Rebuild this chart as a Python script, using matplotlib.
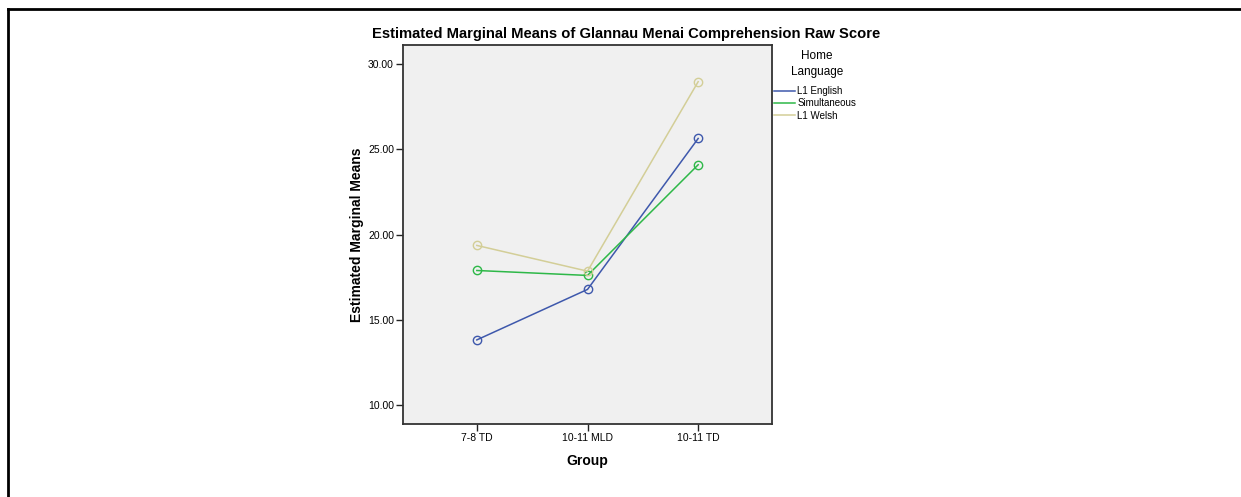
import matplotlib
matplotlib.use("Agg")
import matplotlib.pyplot as plt
from matplotlib.lines import Line2D

groups = ["7-8 TD", "10-11 MLD", "10-11 TD"]
l1_english = [13.82, 16.78, 25.63]
simultaneous = [17.89, 17.60, 24.09]
l1_welsh = [19.36, 17.85, 28.96]
series_names = ["L1 English", "Simultaneous", "L1 Welsh"]
series_colors = ["#3E58AC", "#2EB848", "#D3CE97"]
yticks = [10, 15, 20, 25, 30]

plt.rcParams['font.family'] = ['Liberation Sans', 'DejaVu Sans']

W, H = 1241, 497
fig = plt.figure(figsize=(W/100, H/100), dpi=100)
ax = fig.add_axes([403/W, 1-424/H, 369/W, 379/H])
ax.set_facecolor("#F0F0F0")

x = list(range(len(groups)))
for vals, name, col in zip([l1_english, simultaneous, l1_welsh], series_names, series_colors):
	ax.plot(x, vals, color=col, lw=1.1, marker='o', markersize=6,
		markerfacecolor='none', markeredgecolor=col, markeredgewidth=1, label=name)

ax.set_xlim(-0.667, 2.667)
ax.set_ylim(8.89, 31.11)
ax.set_xticks(x)
ax.set_xticklabels(groups, fontsize=7.5)
ax.set_yticks(yticks)
ax.set_yticklabels(["%.2f" % v for v in yticks], fontsize=7.5)
ax.tick_params(direction='out', length=5, width=1, color='#222222', pad=1.5)
for s in ax.spines.values():
	s.set_color('#333333')
	s.set_linewidth(1.3)

ax.set_xlabel("Group", fontsize=10, fontweight='bold', labelpad=8)
ax.set_ylabel("Estimated Marginal Means", fontsize=10, fontweight='bold', labelpad=3)
fig.text(626/W, 1-34/H, "Estimated Marginal Means of Glannau Menai Comprehension Raw Score",
	fontsize=10.6, fontweight='bold', ha='center', va='center')

# legend
fig.text(817/W, 1-64/H, "Home\nLanguage", fontsize=8.5, ha='center', va='center',
	multialignment='center', linespacing=1.45)
leg = ax.legend(loc='upper left', bbox_to_anchor=(774/W, 1-86/H), bbox_transform=fig.transFigure,
	frameon=False, fontsize=7, handlelength=2.2, handletextpad=0.2,
	labelspacing=0.25, borderaxespad=0, borderpad=0)
for h in leg.legend_handles:
	h.set_marker('')

# outer frame lines (top and left)
fig.add_artist(Line2D([8/W, 1], [1-9/H, 1-9/H], color='black', lw=2))
fig.add_artist(Line2D([8/W, 8/W], [0, 1-9/H], color='black', lw=2))

fig.savefig("out.png", dpi=100)
